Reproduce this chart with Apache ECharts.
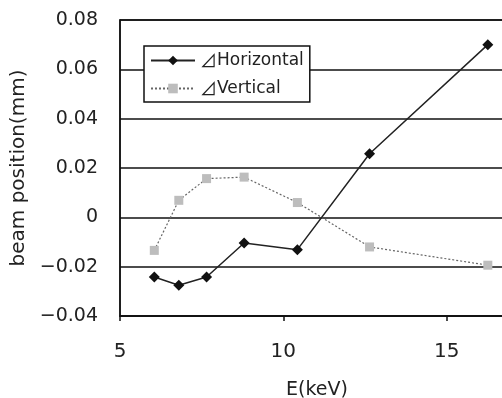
<!DOCTYPE html>
<html>
<head>
<meta charset="utf-8">
<script src="https://cdn.jsdelivr.net/npm/echarts@6/dist/echarts.min.js"></script>
<style>
  html, body { margin: 0; padding: 0; background: #fff; }
  #main { width: 502px; height: 398px; }
</style>
</head>
<body>
<div id="main"></div>
<script>
// energy (keV)
var energy = [6.05, 6.8, 7.65, 8.8, 10.43, 12.64, 16.26];
// beam position shift (mm)
var dHorizontal = [-0.0242, -0.0275, -0.0242, -0.0104, -0.0131, 0.0258, 0.0700];
var dVertical = [-0.0134, 0.0069, 0.0157, 0.0163, 0.0060, -0.0120, -0.0194];
var seriesNames = ['⊿Horizontal', '⊿Vertical'];

var font = "'DejaVu Sans', 'Noto Sans CJK JP', sans-serif";

function pairs(xs, ys) {
    return xs.map(function (x, i) { return [x, ys[i]]; });
}

var chart = echarts.init(document.getElementById('main'), null, { renderer: 'canvas' });
chart.setOption({
    backgroundColor: '#ffffff',
    animation: false,
    grid: {
        left: 120, top: 20, width: 490, height: 296,
        outerBoundsMode: 'none',
        containLabel: false,
        show: true, borderColor: '#111', borderWidth: 1.5
    },
    legend: {
        data: seriesNames,
        orient: 'vertical',
        left: 144, top: 46,
        padding: [6, 6, 5, 6],
        itemGap: 11,
        itemWidth: 44, itemHeight: 12,
        backgroundColor: '#ffffff',
        borderColor: '#111', borderWidth: 1.5,
        formatter: function (name) {
            return '{t|' + name.charAt(0) + '}' + name.slice(1);
        },
        textStyle: {
            fontFamily: font, fontSize: 17, color: '#222',
            rich: { t: { fontFamily: "'Noto Sans CJK JP'", fontSize: 17, color: '#222' } }
        }
    },
    xAxis: {
        type: 'value',
        min: 5, max: 20, interval: 5,
        name: 'E(keV)', nameLocation: 'middle', nameGap: 65,
        nameTextStyle: { fontFamily: font, fontSize: 19, color: '#222', padding: [0, 96, 0, 0] },
        axisLine: { show: true, onZero: false, lineStyle: { color: '#111', width: 1.5 } },
        axisTick: { show: true, length: 5, lineStyle: { color: '#111', width: 1.5 } },
        axisLabel: { margin: 26, fontFamily: font, fontSize: 20, color: '#222' },
        splitLine: { show: false }
    },
    yAxis: {
        type: 'value',
        min: -0.04, max: 0.08, interval: 0.02,
        name: 'beam position(mm)', nameLocation: 'middle', nameGap: 86,
        nameTextStyle: { fontFamily: font, fontSize: 20, color: '#222' },
        axisLine: { show: true, onZero: false, lineStyle: { color: '#111', width: 1.5 } },
        axisTick: { show: false },
        axisLabel: {
            margin: 22, fontFamily: font, fontSize: 19, color: '#222',
            formatter: function (v) {
                if (Math.abs(v) < 1e-9) return '0';
                return (v < 0 ? '\u2212' : '') + Math.abs(v).toFixed(2);
            }
        },
        splitLine: { show: true, lineStyle: { color: '#111', width: 1.5 } }
    },
    series: [
        {
            name: seriesNames[0],
            type: 'line',
            data: pairs(energy, dHorizontal),
            symbol: 'diamond', symbolSize: 11,
            itemStyle: { color: '#111' },
            lineStyle: { color: '#222', width: 1.5 },
            z: 3
        },
        {
            name: seriesNames[1],
            type: 'line',
            data: pairs(energy, dVertical),
            symbol: 'rect', symbolSize: 9,
            itemStyle: { color: '#bdbdbd' },
            lineStyle: { color: '#666', width: 1.2, type: [2, 2] },
            z: 2
        }
    ]
});
</script>
</body>
</html>
